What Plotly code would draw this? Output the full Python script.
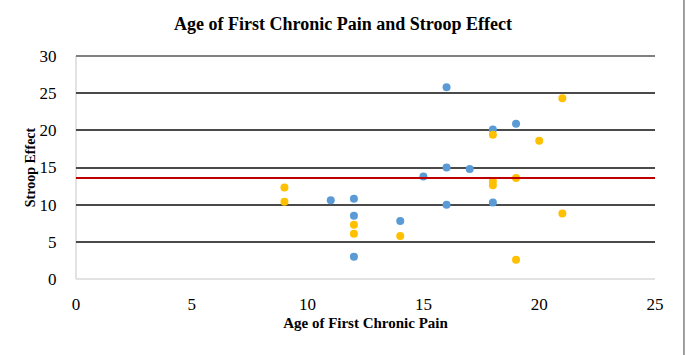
import plotly.graph_objects as go

# Data
blue_x = [11, 12, 12, 12, 14, 15, 16, 16, 16, 17, 18, 18, 19]
blue_y = [10.6, 10.8, 8.5, 3.0, 7.8, 13.8, 25.8, 15.0, 10.0, 14.8, 20.1, 10.3, 20.9]

yellow_x = [9, 9, 12, 12, 14, 18, 18, 18, 19, 19, 20, 21, 21]
yellow_y = [12.3, 10.4, 7.3, 6.1, 5.8, 19.4, 13.2, 12.6, 13.6, 2.6, 18.6, 24.3, 8.8]

mean_x = [0, 25]
mean_y = [13.6, 13.6]

x_ticks = [0, 5, 10, 15, 20, 25]
y_ticks = [0, 5, 10, 15, 20, 25, 30]

FONT = "Liberation Serif, Times New Roman, serif"

fig = go.Figure()
fig.add_trace(go.Scatter(x=blue_x, y=blue_y, mode="markers",
                         marker=dict(color="#5B9BD5", size=8), showlegend=False))
fig.add_trace(go.Scatter(x=yellow_x, y=yellow_y, mode="markers",
                         marker=dict(color="#FFC000", size=8), showlegend=False))
fig.add_trace(go.Scatter(x=mean_x, y=mean_y, mode="lines",
                         line=dict(color="#C00000", width=2), showlegend=False))

fig.update_layout(
    width=686, height=355,
    margin=dict(l=76, r=31, t=56, b=76),
    paper_bgcolor="white", plot_bgcolor="white",
    font=dict(family=FONT, color="#000000"),
    title=dict(text="<b>Age of First Chronic Pain and Stroop Effect</b>",
               x=0.5, xanchor="center", y=0.932, yanchor="middle",
               font=dict(size=18, family=FONT)),
    xaxis=dict(range=[0, 25], tickvals=x_ticks, showgrid=False,
               zeroline=False, showline=False,
               ticks="outside", ticklen=10, tickcolor="rgba(0,0,0,0)",
               tickfont=dict(size=17, family=FONT),
               title=dict(text="<b>Age of First Chronic Pain</b>",
                          font=dict(size=15, family=FONT), standoff=4)),
    yaxis=dict(range=[0, 30], tickvals=y_ticks, showgrid=True,
               gridcolor="#4a4a4a", gridwidth=1.5,
               zeroline=False, showline=False,
               ticks="outside", ticklen=15, tickcolor="rgba(0,0,0,0)",
               tickfont=dict(size=17, family=FONT),
               title=dict(text="<b>Stroop Effect</b>",
                          font=dict(size=14, family=FONT), standoff=0)),
    shapes=[
        # light axis lines
        dict(type="line", xref="paper", yref="paper", x0=0, x1=0, y0=0, y1=1,
             line=dict(color="#d9d9d9", width=1.5), layer="below"),
        dict(type="line", xref="paper", yref="paper", x0=0, x1=1, y0=0, y1=0,
             line=dict(color="#d9d9d9", width=1.5), layer="below"),
        # top gridline
        dict(type="line", xref="paper", yref="paper", x0=0, x1=1, y0=1, y1=1,
             line=dict(color="#808080", width=2), layer="below"),
        # chart right border
        dict(type="line", xref="paper", yref="paper", x0=1.05, x1=1.05, y0=-0.45, y1=1.3,
             line=dict(color="#808080", width=1.5)),
    ],
)

fig.write_html("out.html")
